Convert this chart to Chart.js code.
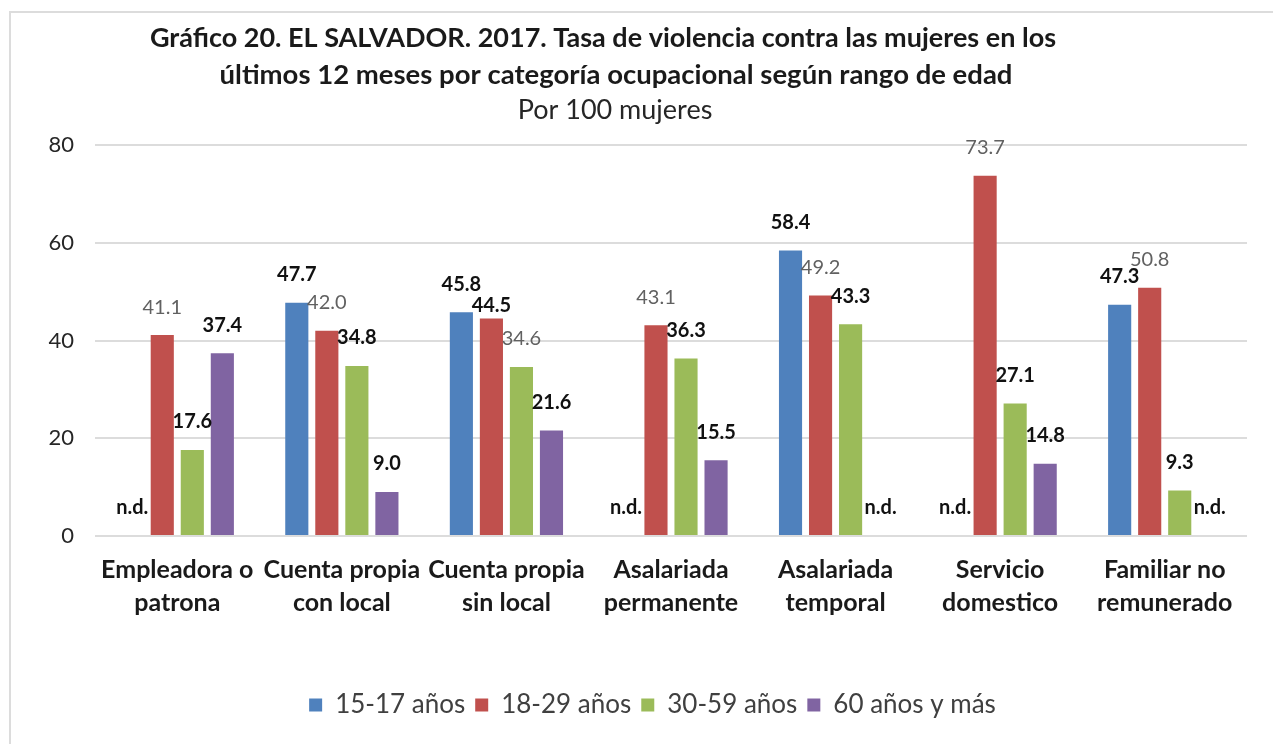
<!DOCTYPE html>
<html>
<head>
<meta charset="utf-8">
<script src="https://cdn.jsdelivr.net/npm/chart.js@4.4.0/dist/chart.umd.min.js"></script>
<style>
    html, body { margin: 0; padding: 0; background: #fff; }
    #wrap { width: 1273px; height: 744px; position: relative; }
</style>
</head>
<body>
<div id="wrap"><canvas id="grafico"></canvas></div>
<script>
// categorías y series (null = n.d.)
const categorias = [
    ['Empleadora o', 'patrona'],
    ['Cuenta propia', 'con local'],
    ['Cuenta propia', 'sin local'],
    ['Asalariada', 'permanente'],
    ['Asalariada', 'temporal'],
    ['Servicio', 'domestico'],
    ['Familiar no', 'remunerado']
];
const series = ['15-17 años', '18-29 años', '30-59 años', '60 años y más'];
const edad15a17 = [null, 47.7, 45.8, null, 58.4, null, 47.3];
const edad18a29 = [41.1, 42.0, 44.5, 43.1, 49.2, 73.7, 50.8];
const edad30a59 = [17.6, 34.8, 34.6, 36.3, 43.3, 27.1, 9.3];
const edad60mas = [37.4, 9.0, 21.6, 15.5, null, 14.8, null];
const ticksY = [0, 20, 40, 60, 80];

const colores = ['#4F81BD', '#C0504D', '#9BBB59', '#8064A2'];
// etiquetas que salen en gris y sin negrita: [serie, categoría]
const etiquetasGrises = [[1, 0], [1, 1], [1, 3], [1, 4], [1, 5], [1, 6], [2, 2]];
// etiqueta desplazada hacia abajo en el original (44.5)
const etiquetasBajas = [[1, 2, 15]];

const FUENTE = 'Lato, "Open Sans", sans-serif';

const tituloPlugin = {
    id: 'tituloPlugin',
    afterLayout(chart) {
        // la leyenda del original está algo corrida a la derecha
        chart.legend.left += 29;
        chart.legend.right += 29;
    },
    beforeDraw(chart) {
        const ctx = chart.ctx;
        ctx.save();
        // marco del gráfico
        ctx.strokeStyle = '#dcdcdc';
        ctx.lineWidth = 2;
        ctx.strokeRect(10, 12, 1300, 800);
        ctx.fillStyle = '#1a1a1a';
        ctx.textAlign = 'center';
        ctx.textBaseline = 'middle';
        ctx.font = 'bold 27px ' + FUENTE;
        ctx.fillText('Gráfico 20. EL SALVADOR. 2017. Tasa de violencia contra las mujeres en los', 603, 38);
        ctx.font = 'bold 27.5px ' + FUENTE;
        ctx.fillText('últimos 12 meses por categoría ocupacional según rango de edad', 616, 75);
        ctx.font = '27px ' + FUENTE;
        ctx.fillStyle = '#262626';
        ctx.fillText('Por 100 mujeres', 615, 110);
        ctx.restore();
    }
};

const etiquetasPlugin = {
    id: 'etiquetasPlugin',
    afterDatasetsDraw(chart) {
        const ctx = chart.ctx;
        const y0 = chart.scales.y.getPixelForValue(0);
        ctx.save();
        ctx.textAlign = 'center';
        ctx.textBaseline = 'middle';
        chart.data.datasets.forEach((ds, i) => {
            const meta = chart.getDatasetMeta(i);
            meta.data.forEach((el, j) => {
                const v = ds.data[j];
                const gris = etiquetasGrises.some(e => e[0] === i && e[1] === j);
                const baja = etiquetasBajas.find(e => e[0] === i && e[1] === j);
                ctx.font = (gris ? '' : 'bold ') + '20px ' + FUENTE;
                ctx.fillStyle = gris ? '#616161' : '#111111';
                const texto = v === null ? 'n.d.' : v.toFixed(1);
                const y = (v === null ? y0 : el.y) - 28 + (baja ? baja[2] : 0);
                ctx.fillText(texto, el.x, y);
            });
        });
        ctx.restore();
    }
};

const datos = [edad15a17, edad18a29, edad30a59, edad60mas];

new Chart(document.getElementById('grafico'), {
    type: 'bar',
    data: {
        labels: categorias,
        datasets: series.map((s, i) => ({
            label: s,
            data: datos[i],
            backgroundColor: colores[i],
            borderWidth: 0,
            categoryPercentage: 0.73,
            barPercentage: 0.77
        }))
    },
    options: {
        responsive: true,
        maintainAspectRatio: false,
        animation: false,
        layout: { padding: { top: 145, right: 26, bottom: 16, left: 0 } },
        plugins: {
            title: { display: false },
            tooltip: { enabled: false },
            legend: {
                position: 'bottom',
                labels: {
                    font: { family: FUENTE, size: 26 },
                    color: '#404040',
                    boxWidth: 13,
                    boxHeight: 13,
                    padding: 10
                }
            }
        },
        scales: {
            x: {
                grid: { display: false },
                border: { display: false },
                ticks: {
                    color: '#1a1a1a',
                    font: { family: FUENTE, size: 25, weight: 'bold', lineHeight: 1.32 },
                    padding: 9,
                    maxRotation: 0,
                    autoSkip: false
                },
                afterFit(scale) { scale.height = 146; }
            },
            y: {
                min: 0,
                max: 80,
                afterBuildTicks(scale) { scale.ticks = ticksY.map(v => ({ value: v })); },
                grid: { color: '#dcdcdc', lineWidth: 2, drawTicks: false },
                border: { display: false },
                ticks: {
                    color: '#262626',
                    font: { family: FUENTE, size: 22 },
                    padding: 21
                },
                afterFit(scale) { scale.width = 95; }
            }
        }
    },
    plugins: [tituloPlugin, etiquetasPlugin]
});
</script>
</body>
</html>
